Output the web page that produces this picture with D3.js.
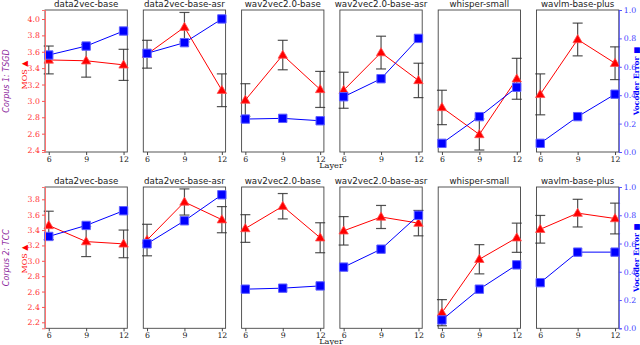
<!DOCTYPE html>
<html>
<head>
<meta charset="utf-8">
<script src="https://cdn.jsdelivr.net/npm/d3@7"></script>
<style>
  body { margin: 0; background: #fff; }
  svg { display: block; }
</style>
</head>
<body>
<div id="chart"></div>
<script>
const models = ['data2vec-base', 'data2vec-base-asr', 'wav2vec2.0-base', 'wav2vec2.0-base-asr', 'whisper-small', 'wavlm-base-plus']
const layers = [6, 9, 12]
const corpora = ['Corpus 1: TSGD', 'Corpus 2: TCC']

// MOS (red) per corpus, per model, per layer
const mos1 = [
  [3.50, 3.49, 3.44], [3.57, 3.90, 3.13], [3.01, 3.56, 3.14],
  [3.13, 3.59, 3.25], [2.92, 2.59, 3.27], [3.08, 3.75, 3.46]
]
const mosErr1 = [
  [0.17, 0.20, 0.19], [0.17, 0.18, 0.20], [0.20, 0.18, 0.22],
  [0.22, 0.20, 0.21], [0.21, 0.19, 0.25], [0.25, 0.20, 0.20]
]
const mos2 = [
  [3.46, 3.25, 3.22], [3.27, 3.765, 3.535], [3.42, 3.71, 3.30],
  [3.39, 3.57, 3.49], [2.325, 3.02, 3.30], [3.41, 3.62, 3.55]
]
const mosErr2 = [
  [0.185, 0.195, 0.18], [0.205, 0.17, 0.17], [0.18, 0.165, 0.195],
  [0.185, 0.15, 0.165], [0.17, 0.19, 0.19], [0.18, 0.18, 0.20]
]
// vocoder error (blue)
const voc1 = [
  [0.683, 0.746, 0.852], [0.695, 0.77, 0.937], [0.232, 0.237, 0.22],
  [0.389, 0.516, 0.80], [0.061, 0.249, 0.456], [0.061, 0.249, 0.407]
]
const voc2 = [
  [0.65, 0.728, 0.832], [0.598, 0.761, 0.945], [0.277, 0.284, 0.30],
  [0.433, 0.56, 0.80], [0.059, 0.277, 0.449], [0.323, 0.539, 0.539]
]
const mosTicks1 = [2.4, 2.6, 2.8, 3.0, 3.2, 3.4, 3.6, 3.8, 4.0]
const mosTicks2 = [2.2, 2.4, 2.6, 2.8, 3.0, 3.2, 3.4, 3.6, 3.8]
const vocTicks = [0.0, 0.2, 0.4, 0.6, 0.8, 1.0]

const rows = [
  { mos: mos1, err: mosErr1, voc: voc1, ticks: mosTicks1, domain: [2.376, 4.11], top: 10, bottom: 152, labelY: 75 },
  { mos: mos2, err: mosErr2, voc: voc2, ticks: mosTicks2, domain: [2.122, 3.96], top: 187, bottom: 328.3, labelY: 259 }
]

const width = 640, height = 345
const left0 = 45, step = 98.3, panelW = 82.3
const RED = '#ff0000', BLUE = '#0000ff', GREY = '#444'
const serif = 'DejaVu Serif'

const svg = d3.select('#chart').append('svg')
  .attr('width', width)
  .attr('height', height)

svg.append('rect').attr('width', width).attr('height', height).attr('fill', '#fff')

const tri = d3.symbol().type(d3.symbolTriangle).size(38)
const sq = d3.symbol().type(d3.symbolSquare).size(70)

rows.forEach((row, r) => {
  const yMos = d3.scaleLinear().domain(row.domain).range([row.bottom, row.top])
  const yVoc = d3.scaleLinear().domain([0, 1]).range([row.bottom, row.top])

  models.forEach((m, i) => {
    const x0 = left0 + i * step
    const x = d3.scaleLinear().domain([5.7, 12.3]).range([x0, x0 + panelW])
    const g = svg.append('g').attr('class', 'panel')

    // title
    g.append('text')
      .attr('x', x0 + panelW / 2)
      .attr('y', row.top - 3)
      .attr('text-anchor', 'middle')
      .attr('font-family', 'DejaVu Sans')
      .attr('font-size', 8.7)
      .attr('fill', '#222')
      .text(m)

    // x axis
    const xAxis = g.append('g')
      .attr('transform', `translate(0,${row.bottom})`)
      .call(d3.axisBottom(x).tickValues(layers).tickFormat(d3.format('d')).tickSize(3).tickPadding(1))
    xAxis.select('.domain').remove()
    xAxis.selectAll('line').attr('stroke', GREY)
    xAxis.selectAll('text').attr('font-family', serif).attr('font-size', 7.8).attr('fill', '#222')

    // frame
    g.append('rect')
      .attr('x', x0).attr('y', row.top)
      .attr('width', panelW).attr('height', row.bottom - row.top)
      .attr('fill', 'none').attr('stroke', GREY).attr('stroke-width', 0.9)

    const pts = layers.map((l, j) => ({ l, v: row.mos[i][j], e: row.err[i][j], b: row.voc[i][j] }))

    // MOS line
    g.append('path')
      .datum(pts)
      .attr('fill', 'none')
      .attr('stroke', RED)
      .attr('stroke-width', 1)
      .attr('d', d3.line().x(d => x(d.l)).y(d => yMos(d.v)))

    // error bars
    const eb = g.append('g').selectAll('g').data(pts).join('g')
      .attr('stroke', '#333').attr('stroke-width', 1.2).attr('stroke-opacity', 0.85)
    eb.append('line')
      .attr('x1', d => x(d.l)).attr('x2', d => x(d.l))
      .attr('y1', d => yMos(d.v - d.e)).attr('y2', d => yMos(d.v + d.e))
    eb.append('line')
      .attr('x1', d => x(d.l) - 5).attr('x2', d => x(d.l) + 5)
      .attr('y1', d => yMos(d.v - d.e)).attr('y2', d => yMos(d.v - d.e))
    eb.append('line')
      .attr('x1', d => x(d.l) - 5).attr('x2', d => x(d.l) + 5)
      .attr('y1', d => yMos(d.v + d.e)).attr('y2', d => yMos(d.v + d.e))

    g.append('g').selectAll('path').data(pts).join('path')
      .attr('d', tri)
      .attr('transform', d => `translate(${x(d.l)},${yMos(d.v) + 0.5})`)
      .attr('fill', RED)
      .attr('stroke', '#ff5050')
      .attr('stroke-width', 0.8)

    // vocoder error line (twin axis on top)
    g.append('path')
      .datum(pts)
      .attr('fill', 'none')
      .attr('stroke', BLUE)
      .attr('stroke-width', 1)
      .attr('d', d3.line().x(d => x(d.l)).y(d => yVoc(d.b)))

    g.append('g').selectAll('path').data(pts).join('path')
      .attr('d', sq)
      .attr('transform', d => `translate(${x(d.l)},${yVoc(d.b)})`)
      .attr('fill', BLUE)
      .attr('stroke', '#6060ff')
      .attr('stroke-width', 1)

    // left MOS axis on first panel
    if (i === 0) {
      const ax = g.append('g')
        .attr('transform', `translate(${x0},0)`)
        .call(d3.axisLeft(yMos).tickValues(row.ticks).tickFormat(d3.format('.1f')).tickSize(3).tickPadding(2))
      ax.select('.domain').attr('stroke', '#ff7070')
      ax.selectAll('line').attr('stroke', '#ff5050')
      ax.selectAll('text').attr('font-family', serif).attr('font-size', 7.8).attr('fill', '#ff3030')

      g.append('text')
        .attr('transform', `translate(27,${row.labelY}) rotate(-90)`)
        .attr('text-anchor', 'middle')
        .attr('font-family', serif)
        .attr('font-size', 8)
        .attr('fill', RED)
        .text('MOS ▲')

      g.append('text')
        .attr('transform', `translate(9,${(row.top + row.bottom) / 2}) rotate(-90)`)
        .attr('text-anchor', 'middle')
        .attr('font-family', 'DejaVu Sans')
        .attr('font-style', 'italic')
        .attr('font-size', 8)
        .attr('fill', '#8e2a9e')
        .text(corpora[r])
    }

    // right vocoder axis on last panel
    if (i === models.length - 1) {
      const ax = g.append('g')
        .attr('transform', `translate(${x0 + panelW},0)`)
        .call(d3.axisRight(yVoc).tickValues(vocTicks).tickFormat(d3.format('.1f')).tickSize(3).tickPadding(2))
      ax.select('.domain').attr('stroke', '#5050ff')
      ax.selectAll('line').attr('stroke', '#5050ff')
      ax.selectAll('text').attr('font-family', serif).attr('font-size', 7.8).attr('fill', '#4040ff')

      g.append('text')
        .attr('transform', `translate(637,${(row.top + row.bottom) / 2}) rotate(-90)`)
        .attr('text-anchor', 'middle')
        .attr('dominant-baseline', 'middle')
        .attr('font-family', serif)
        .attr('font-weight', 'bold')
        .attr('font-size', 7.5)
        .attr('fill', BLUE)
        .text('Vocoder Error ■')
    }
  })

  // shared x label
  svg.append('text')
    .attr('x', 331)
    .attr('y', row.bottom + 15.5)
    .attr('text-anchor', 'middle')
    .attr('font-family', serif)
    .attr('font-size', 8.2)
    .attr('fill', '#222')
    .text('Layer')
})
</script>
</body>
</html>
